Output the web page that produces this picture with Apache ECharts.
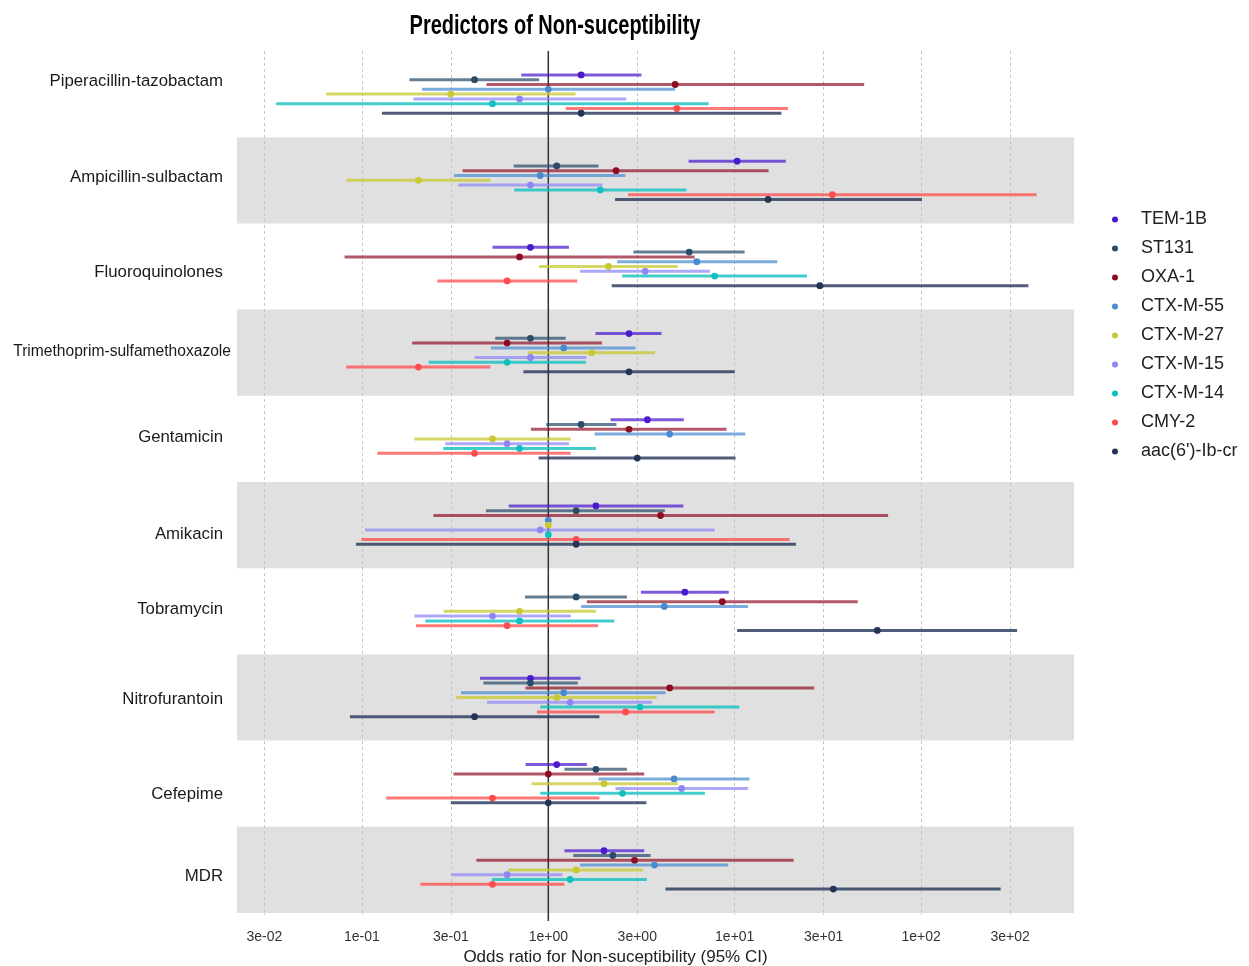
<!DOCTYPE html>
<html>
<head>
<meta charset="utf-8">
<script src="https://cdn.jsdelivr.net/npm/echarts@6/dist/echarts.min.js"></script>
<style>
html,body{margin:0;padding:0;background:#fff;}
#chart{width:1249px;height:966px;}
</style>
</head>
<body>
<div id="chart"></div>
<script>
// ---------- DATA ----------
const categories = ['Piperacillin-tazobactam','Ampicillin-sulbactam','Fluoroquinolones','Trimethoprim-sulfamethoxazole','Gentamicin','Amikacin','Tobramycin','Nitrofurantoin','Cefepime','MDR'];
const seriesNames = ['TEM-1B','ST131','OXA-1','CTX-M-55','CTX-M-27','CTX-M-15','CTX-M-14','CMY-2',"aac(6')-Ib-cr"];
const tickValues = [0.03,0.1,0.3,1,3,10,30,100,300];
const tickLabels = ['3e-02','1e-01','3e-01','1e+00','3e+00','1e+01','3e+01','1e+02','3e+02'];
const referenceOR = 1;

// each entry: [lower 95% CI, odds ratio, upper 95% CI], one per category (in order)
const TEM1B = [[0.716,1.50,3.16],[5.66,10.3,18.8],[0.502,0.802,1.29],[1.79,2.71,4.05],[2.16,3.40,5.33],[0.613,1.80,5.30],[3.14,5.40,9.29],[0.430,0.802,1.49],[0.755,1.11,1.61],[1.22,1.99,3.27]];
const ST131 = [[0.180,0.402,0.893],[0.652,1.11,1.86],[2.86,5.70,11.3],[0.519,0.802,1.24],[0.974,1.50,2.32],[0.463,1.41,4.22],[0.750,1.41,2.64],[0.448,0.802,1.44],[1.22,1.80,2.64],[1.36,2.22,3.54]];
const OXA1 = [[0.466,4.79,49.5],[0.347,2.31,15.2],[0.0807,0.701,6.09],[0.186,0.601,1.94],[0.807,2.71,9.04],[0.242,4.00,66.5],[1.61,8.57,45.7],[0.755,4.48,26.7],[0.310,1.00,3.27],[0.411,2.90,20.7]];
const CTXM55 = [[0.210,1.00,4.79],[0.312,0.905,2.59],[2.34,6.26,16.9],[0.492,1.21,2.94],[1.77,4.48,11.4],[1,1,1],[1.50,4.19,11.8],[0.340,1.21,4.25],[1.86,4.73,12.0],[1.48,3.71,9.23]];
const CTXM27 = [[0.0643,0.300,1.40],[0.0824,0.201,0.489],[0.893,2.10,4.95],[0.775,1.71,3.74],[0.191,0.502,1.32],[1,1,1],[0.275,0.701,1.80],[0.321,1.11,3.81],[0.813,1.99,4.95],[0.609,1.41,3.22]];
const CTXM15 = [[0.189,0.701,2.62],[0.329,0.802,1.95],[1.48,3.31,7.35],[0.402,0.802,1.60],[0.280,0.601,1.29],[0.104,0.905,7.81],[0.191,0.502,1.32],[0.469,1.31,3.59],[2.29,5.19,11.8],[0.302,0.601,1.19]];
const CTXM14 = [[0.0347,0.502,7.25],[0.656,1.90,5.51],[2.49,7.81,24.4],[0.228,0.601,1.59],[0.273,0.701,1.80],[1,1,1],[0.219,0.701,2.26],[0.905,3.10,10.6],[0.905,2.50,6.92],[0.498,1.31,3.38]];
const CMY2 = [[1.24,4.89,19.3],[2.68,33.4,416],[0.254,0.601,1.43],[0.0824,0.201,0.489],[0.121,0.402,1.32],[0.0993,1.41,19.7],[0.195,0.601,1.85],[0.869,2.60,7.81],[0.135,0.502,1.88],[0.206,0.502,1.22]];
const AAC = [[0.128,1.50,17.8],[2.28,15.1,101],[2.19,28.6,376],[0.735,2.71,10.0],[0.887,3.00,10.1],[0.0929,1.41,21.3],[10.3,58.2,327],[0.0863,0.402,1.88],[0.300,1.00,3.36],[4.25,33.8,267]];

const allSeriesData = [TEM1B, ST131, OXA1, CTXM55, CTXM27, CTXM15, CTXM14, CMY2, AAC];
const colors = ['#4B1ACD','#2A4C6B','#8E0B22','#4A8AD0','#C8C832','#8E86F5','#13C0C0','#FF4C4C','#243456'];
const lineColors = ['rgba(75,26,205,0.72)','rgba(42,76,107,0.72)','rgba(142,11,34,0.68)','rgba(74,138,208,0.72)','rgba(200,200,50,0.75)','rgba(142,134,245,0.72)','rgba(19,192,192,0.8)','rgba(255,76,76,0.75)','rgba(36,52,86,0.8)'];
// vertical shift of category labels (px), font sizes and horizontal nudge to match the reference
const labelShift = [-12.5,-2.5,5.5,-1.5,-1.5,9.5,-1.5,1.5,10.5,6.5];
const labelSize = [16.8,16.8,16.8,15.6,16.8,16.8,16.8,16.8,16.8,16.8];
const labelNudge = [0,0,0,-8,0,0,0,0,0,0];

// ---------- CHART ----------
const chart = echarts.init(document.getElementById('chart'), null, {renderer:'canvas'});
const lg = v => Math.log10(v);
const FONT = 'Liberation Sans, Arial, sans-serif';

const series = allSeriesData.map((rows, si) => ({
  type: 'custom',
  name: seriesNames[si],
  itemStyle: {color: colors[si]},
  encode: {x: [0,1,2], y: 3},
  data: rows.map((r, ci) => [lg(r[0]), lg(r[1]), lg(r[2]), ci]),
  renderItem: function (params, api) {
    const cat = api.value(3);
    const pLo = api.coord([api.value(0), cat]);
    const pOr = api.coord([api.value(1), cat]);
    const pHi = api.coord([api.value(2), cat]);
    const band = api.size([0, 1])[1];
    const y = pOr[1] + (si - 4) * band * 0.0556;
    return {
      type: 'group',
      children: [
        {type:'line', shape:{x1:pLo[0], y1:y, x2:pHi[0], y2:y}, style:{stroke: lineColors[si], lineWidth: 3, lineCap:'butt'}},
        {type:'circle', shape:{cx:pOr[0], cy:y, r:3.4}, style:{fill: colors[si]}}
      ]
    };
  },
  z: 3
}));

// vertical reference line at OR = 1
series.unshift({
  type: 'custom',
  name: 'ref',
  silent: true,
  encode: {x: 0, y: 1},
  data: [[lg(referenceOR), 0]],
  renderItem: function (params, api) {
    const cs = params.coordSys;
    const p = api.coord([api.value(0), 0]);
    return {type:'line', shape:{x1:p[0], y1:cs.y, x2:p[0], y2:cs.y + cs.height + 8}, style:{stroke:'#333', lineWidth:1.5}};
  },
  z: 2
});

const rich = {};
labelShift.forEach((s, i) => {
  rich['c' + i] = {
    fontFamily: FONT,
    fontSize: labelSize[i],
    color: '#1a1a1a',
    padding: [s > 0 ? 2 * s : 0, labelNudge[i], s < 0 ? -2 * s : 0, 0]
  };
});

const option = {
  backgroundColor: '#fff',
  animation: false,
  graphic: [{
    type: 'text',
    x: 555, y: 27,
    scaleX: 0.74,
    style: {
      text: 'Predictors of Non-suceptibility',
      fontFamily: FONT,
      fontWeight: 'bold',
      fontSize: 27,
      fill: '#000',
      textAlign: 'center',
      textVerticalAlign: 'middle'
    }
  }],
  legend: {
    orient: 'vertical',
    left: 1107,
    top: 205,
    icon: 'circle',
    itemWidth: 42,
    itemHeight: 6,
    itemGap: 10,
    textStyle: {fontFamily: FONT, fontSize: 18, color: '#222', lineHeight: 19},
    data: seriesNames
  },
  grid: {left: 237, right: 175, top: 51, bottom: 53, containLabel: false, outerBoundsMode: 'none'},
  xAxis: {
    type: 'value',
    min: -1.67,
    max: 2.82,
    name: 'Odds ratio for Non-suceptibility (95% CI)',
    nameLocation: 'middle',
    nameGap: 33,
    nameTextStyle: {fontFamily: FONT, fontSize: 17, color: '#222', padding: [0, 80, 0, 0]},
    axisLine: {show: false},
    axisTick: {show: true, customValues: tickValues.map(lg), length: 4, lineStyle: {color: '#ccc', type: [2,2]}},
    axisLabel: {
      customValues: tickValues.map(lg),
      margin: 17,
      fontFamily: FONT,
      fontSize: 14,
      color: '#333',
      formatter: function (v) {
        let best = 0, bd = Infinity;
        tickValues.forEach((t, i) => { const d = Math.abs(lg(t) - v); if (d < bd) { bd = d; best = i; } });
        return tickLabels[best];
      }
    },
    splitLine: {show: true, lineStyle: {color: '#c4c4c4', width: 1, type: [3,3]}}
  },
  yAxis: {
    type: 'category',
    inverse: true,
    data: categories,
    axisLine: {show: false},
    axisTick: {show: false},
    splitLine: {show: false},
    splitArea: {show: true, areaStyle: {color: ['rgba(255,255,255,0)', '#e0e0e0']}},
    axisLabel: {
      margin: 14,
      formatter: function (v, i) { return '{c' + i + '|' + v + '}'; },
      rich: rich
    }
  },
  series: series
};
chart.setOption(option);
</script>
</body>
</html>
